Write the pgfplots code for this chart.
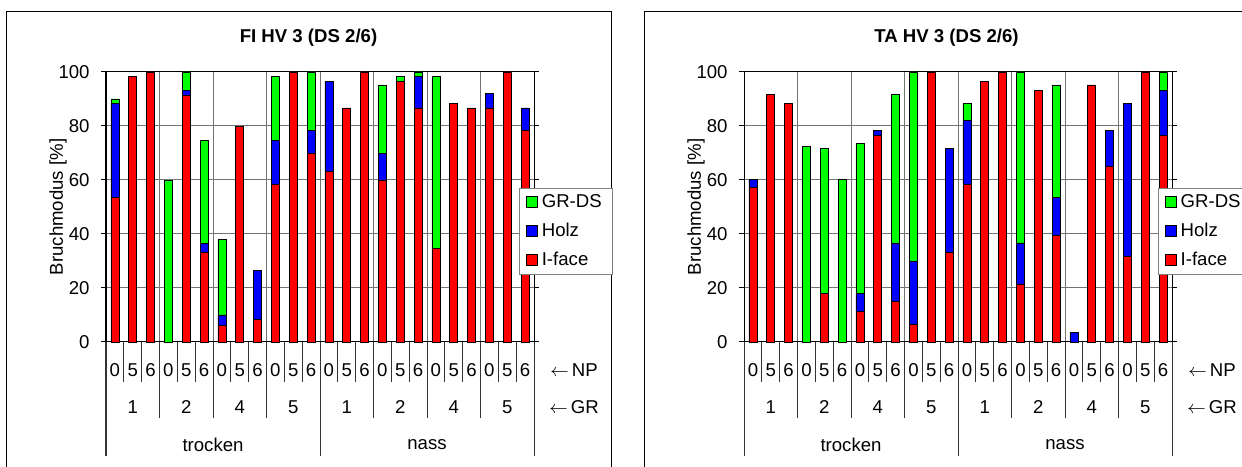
\documentclass[border=0pt]{standalone}
\usepackage{fontspec}
\setmainfont{Liberation Sans}
\usepackage{pgfplots}
\usepackage{pgfplotstable}
\pgfplotsset{compat=1.18}

% x = slot centre; r = I-face, b = Holz, g = GR-DS
\pgfplotstableread{
x r b g
0.5 53.5 35.0 1.5
1.5 98.3 0 0
2.5 100 0 0
3.5 0 0 60.0
4.5 91.5 1.6 6.9
5.5 33.0 3.5 38.2
6.5 6.0 4.0 28.0
7.5 80.0 0 0
8.5 8.3 18.1 0
9.5 58.4 16.3 23.6
10.5 100 0 0
11.5 69.8 8.5 21.7
12.5 63.2 33.3 0
13.5 86.7 0 0
14.5 100 0 0
15.5 60.0 9.9 25.3
16.5 96.5 0 1.9
17.5 86.7 11.7 1.6
18.5 34.7 0 63.6
19.5 88.5 0 0
20.5 86.7 0 0
21.5 86.7 5.2 0
22.5 100 0 0
23.5 78.3 8.4 0
}\dataFI

\pgfplotstableread{
x r b g
0.5 57.4 2.8 0
1.5 91.7 0 0
2.5 88.5 0 0
3.5 0 0 72.5
4.5 18.0 0 53.6
5.5 0 0 60.2
6.5 11.4 6.6 55.5
7.5 76.4 1.9 0
8.5 14.9 21.8 55.0
9.5 6.5 23.5 70.0
10.5 100 0 0
11.5 33.1 38.5 0
12.5 58.4 23.5 6.5
13.5 96.5 0 0
14.5 100 0 0
15.5 21.5 15.2 63.3
16.5 93.3 0 0
17.5 39.6 14.0 41.6
18.5 0 3.5 0
19.5 95.2 0 0
20.5 64.9 13.4 0
21.5 31.6 56.9 0
22.5 100 0 0
23.5 76.4 16.9 6.7
}\dataTA

\pgfplotsset{
  bruch/.style={
    scale only axis, width=214pt, height=135pt,
    anchor=south west,
    ybar stacked, bar width=0.45,
    xmin=0, xmax=24, ymin=0, ymax=100,
    xtick={3,6,...,21}, xticklabels={},
    xmajorgrids, ymajorgrids,
    major x tick style={draw=none},
    ytick={0,20,...,100},
    tick align=outside, major tick length=2.5pt,
    major y tick style={black, line width=0.5pt},
    grid style={black!55, line width=0.5pt},
    axis line style={black, line width=0.5pt},
    yticklabel style={xshift=-2.2pt},
    ylabel={Bruchmodus [\%]},
    ylabel style={at={(axis description cs:-0.112,0.5)}, anchor=center},
    /pgf/number format/assume math mode=true,
    clip=false,
    reverse legend,
    legend cell align=left,
    legend style={anchor=north west, draw=gray, fill=white,
      row sep=3.7pt, inner xsep=3.5pt, inner ysep=1.5pt,
      nodes={inner ysep=1pt, inner xsep=1.8pt, text height=7pt, text depth=1.8pt}},
    legend image code/.code={\draw[#1, line width=0.4pt] (0pt,-2.75pt) rectangle (5.5pt,2.75pt);},
  },
}

\newcommand\cattable{%
  \pgfplotsinvokeforeach{1,2,4,5,7,8,10,11,13,14,16,17,19,20,22,23}{%
    \draw[black!80, line width=0.5pt] (axis cs:##1,0) -- ++(0,-20pt);}
  \pgfplotsinvokeforeach{3,6,9,15,18,21}{%
    \draw[black!80, line width=0.5pt] (axis cs:##1,0) -- ++(0,-38pt);}
  \pgfplotsinvokeforeach{0,12,24}{%
    \draw[black!80, line width=0.5pt] (axis cs:##1,0) -- ++(0,-57pt);}
  \pgfplotsinvokeforeach{0,3,6,9,12,15,18,21}{%
    \node[yshift=-14pt] at (axis cs:##1+0.5,0) {0};
    \node[yshift=-14pt] at (axis cs:##1+1.5,0) {5};
    \node[yshift=-14pt] at (axis cs:##1+2.5,0) {6};}
  \node[yshift=-32.5pt] at (axis cs:1.5,0) {1};
  \node[yshift=-32.5pt] at (axis cs:4.5,0) {2};
  \node[yshift=-32.5pt] at (axis cs:7.5,0) {4};
  \node[yshift=-32.5pt] at (axis cs:10.5,0) {5};
  \node[yshift=-32.5pt] at (axis cs:13.5,0) {1};
  \node[yshift=-32.5pt] at (axis cs:16.5,0) {2};
  \node[yshift=-32.5pt] at (axis cs:19.5,0) {4};
  \node[yshift=-32.5pt] at (axis cs:22.5,0) {5};
  \node[yshift=-51.5pt] at (axis cs:6,0) {trocken};
  \node[yshift=-51.5pt] at (axis cs:18,0) {nass};
  \node[xshift=20pt, yshift=-14pt] at (axis cs:24,0) {$\leftarrow$\,NP};
  \node[xshift=20pt, yshift=-32.5pt] at (axis cs:24,0) {$\leftarrow$\,GR};
}

\begin{document}
\begin{tikzpicture}[font=\fontsize{9.3}{11}\selectfont]
% chart frames
\draw[black, line width=0.5pt] (3pt,-5pt) rectangle (305.5pt,227pt);
\draw[black, line width=0.5pt] (322pt,-5pt) rectangle (625pt,227pt);
\node[font=\fontsize{9.3}{11}\selectfont\bfseries] at (154.25pt,214pt) {FI HV 3 (DS 2/6)};
\node[font=\fontsize{9.3}{11}\selectfont\bfseries] at (473.25pt,214pt) {TA HV 3 (DS 2/6)};

\begin{axis}[bruch, at={(53pt,62pt)},
  legend style={at={(0.965,0.57)}}]
\addplot[fill=red, draw=black, line width=0.4pt] table[x=x, y=r] {\dataFI};
\addplot[fill=blue, draw=black, line width=0.4pt] table[x=x, y=b] {\dataFI};
\addplot[fill=green, draw=black, line width=0.4pt] table[x=x, y=g] {\dataFI};
\legend{I-face, Holz, GR-DS}
\cattable
\end{axis}

\begin{axis}[bruch, at={(372pt,62pt)},
  legend style={at={(0.967,0.57)}}]
\addplot[fill=red, draw=black, line width=0.4pt] table[x=x, y=r] {\dataTA};
\addplot[fill=blue, draw=black, line width=0.4pt] table[x=x, y=b] {\dataTA};
\addplot[fill=green, draw=black, line width=0.4pt] table[x=x, y=g] {\dataTA};
\legend{I-face, Holz, GR-DS}
\cattable
\end{axis}

\pgfresetboundingbox
\useasboundingbox (0,0) rectangle (621pt,233pt);
\end{tikzpicture}
\end{document}
